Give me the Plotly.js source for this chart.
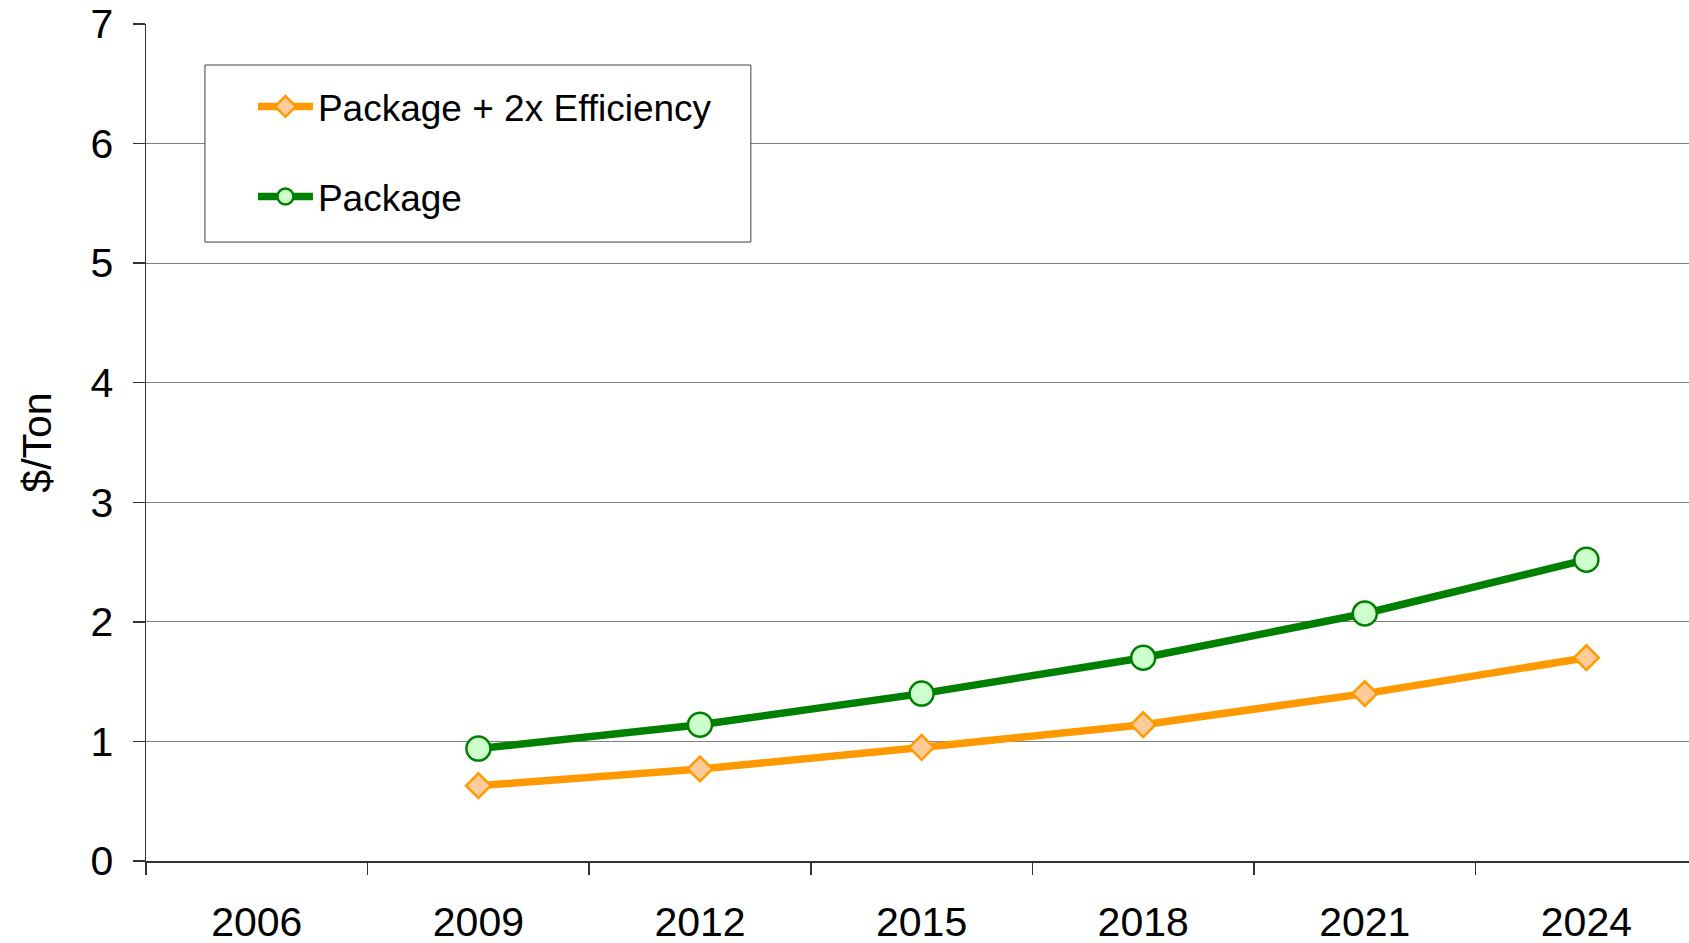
<!DOCTYPE html>
<html>
<head>
<meta charset="utf-8">
<script src="https://cdn.plot.ly/plotly-3.0.1.min.js"></script>
<style>
html, body { margin: 0; padding: 0; background: #fff; }
#chart { width: 1689px; height: 943px; }
</style>
</head>
<body>
<div id="chart"></div>
<script>
const years = ["2006", "2009", "2012", "2015", "2018", "2021", "2024"];
const effValues = [null, 0.63, 0.77, 0.95, 1.14, 1.40, 1.70];
const pkgValues = [null, 0.94, 1.14, 1.40, 1.70, 2.07, 2.52];
const seriesNames = ["Package + 2x Efficiency", "Package"];
const yTicks = [0, 1, 2, 3, 4, 5, 6, 7];

const FONT = "Liberation Sans, Arial, sans-serif";

const traces = [
  {
    x: years, y: effValues, name: seriesNames[0], type: "scatter", mode: "lines+markers",
    legendgroup: "a",
    line: { color: "#FF9900", width: 7.5 },
    marker: { symbol: "diamond", size: 19, color: "#FFCC99", line: { color: "#FF9900", width: 2.5 } },
    connectgaps: false
  },
  {
    x: years, y: pkgValues, name: seriesNames[1], type: "scatter", mode: "lines+markers",
    legendgroup: "b",
    line: { color: "#008000", width: 7.5 },
    marker: { symbol: "circle", size: 24, color: "#CCFFCC", line: { color: "#008000", width: 2.5 } },
    connectgaps: false
  }
];

const layout = {
  width: 1689, height: 943,
  paper_bgcolor: "#ffffff", plot_bgcolor: "#ffffff",
  margin: { l: 146, r: 0, t: 24, b: 82 },
  font: { family: FONT, size: 41, color: "#000" },
  showlegend: true,
  shapes: [
    {
      type: "rect", xref: "paper", yref: "paper",
      x0: 0.0382, x1: 0.392, y0: 0.7395, y1: 0.951,
      line: { color: "#404040", width: 1 }, fillcolor: "#ffffff", layer: "above"
    }
  ],
  legend: {
    x: 0.0382, y: 0.938, xanchor: "left", yanchor: "top",
    borderwidth: 0, bgcolor: "rgba(0,0,0,0)",
    font: { family: FONT, size: 37, color: "#000" },
    tracegroupgap: 39,
    traceorder: "grouped",
    indentation: 48,
    itemwidth: 55
  },
  xaxis: {
    type: "category",
    categoryorder: "array", categoryarray: years,
    range: [-0.5, 6.463],
    showline: true, linecolor: "#333333", linewidth: 1.5,
    ticks: "outside", tickson: "boundaries", ticklen: 12, tickcolor: "#333333", tickwidth: 1.5,
    showgrid: false, zeroline: false,
    tickfont: { family: FONT, size: 41, color: "#000" },
    ticklabelstandoff: 24,
    fixedrange: true
  },
  yaxis: {
    range: [0, 7],
    tickvals: yTicks,
    showline: true, linecolor: "#333333", linewidth: 1.5,
    ticks: "outside", ticklen: 12, tickcolor: "#333333", tickwidth: 1.5,
    showgrid: true, gridcolor: "#808080", gridwidth: 1,
    zeroline: false,
    tickfont: { family: FONT, size: 41, color: "#000" },
    ticklabelstandoff: 11,
    title: { text: "$/Ton", font: { family: FONT, size: 41, color: "#000" }, standoff: 26 },
    fixedrange: true
  }
};

Plotly.newPlot("chart", traces, layout, { displayModeBar: false, staticPlot: true });
</script>
</body>
</html>
